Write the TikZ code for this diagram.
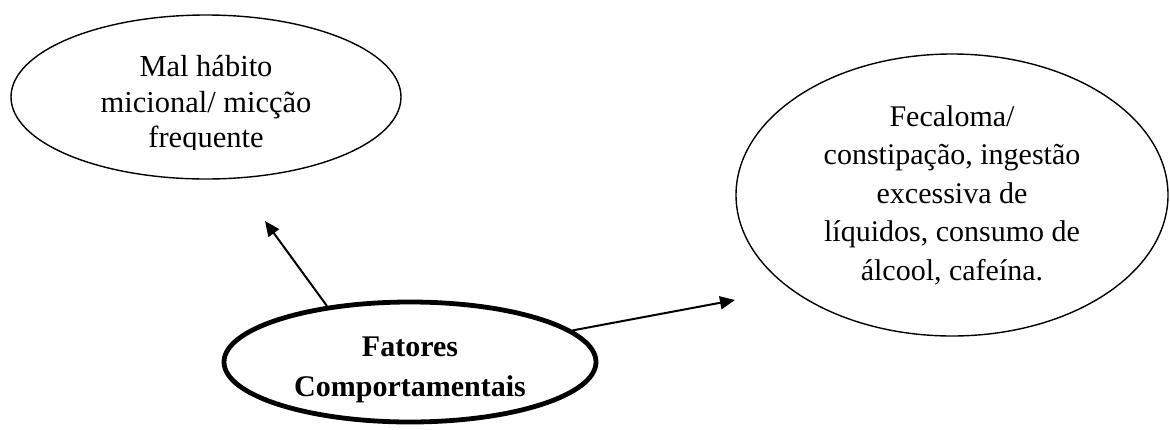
\documentclass[tikz,border=0pt]{standalone}
\usepackage{fontspec}
\setmainfont{Liberation Serif}
\usetikzlibrary{shapes.geometric,arrows.meta}
\begin{document}
\begin{tikzpicture}[x=1pt,y=-1pt,
  bubble/.style={draw=black, ellipse, inner sep=0pt, line width=1.4pt},
  mainbubble/.style={draw=black, ellipse, inner sep=0pt, line width=4.8pt},
  bubbletext/.style={align=center, font=\fontsize{30.5}{35.5}\selectfont, inner sep=0pt},
  conn/.style={line width=2pt, -{Triangle[length=15pt,width=13pt]}}]
\useasboundingbox (0,0) rectangle (1170,429);
% top-left bubble
\node[bubble, minimum width=390pt, minimum height=164pt] (mal) at (206,97) {};
\begin{scope}
\clip (0,0) rectangle (1170,149);
\node[bubbletext] (maltext) at (206,105) {Mal hábito\\micional/ micção\\frequente};
\end{scope}
% right bubble
\node[bubble, minimum width=432pt, minimum height=282pt] (fec) at (952,195) {};
\node[bubbletext, font=\fontsize{30}{38.5}\selectfont] (fectext) at (952,195) {Fecaloma/\\constipação, ingestão\\excessiva de\\líquidos, consumo de\\álcool, cafeína.};
% main bubble
\node[mainbubble, minimum width=372pt, minimum height=120pt] (fc) at (410,362) {};
\node[bubbletext, font=\fontsize{30}{40}\selectfont\bfseries] (fctext) at (410,370) {Fatores\\Comportamentais};
% connectors
\coordinate (tip1) at (265,221);
\coordinate (tip2) at (735,300);
\draw[conn] (fc.146) -- (tip1);
\draw[conn] (fc.11) -- (tip2);
\end{tikzpicture}
\end{document}
